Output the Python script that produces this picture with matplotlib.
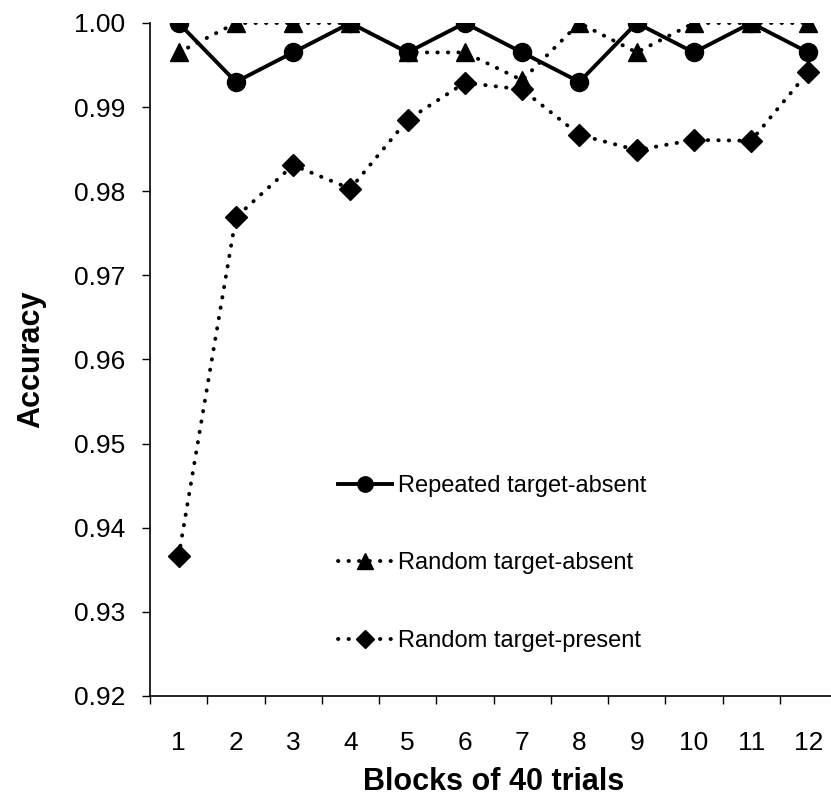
import matplotlib
matplotlib.use("Agg")
import matplotlib.pyplot as plt

plt.rcParams['font.family'] = ['Liberation Sans', 'DejaVu Sans']

blocks = list(range(1, 13))
repeated_absent = [1.000, 0.9930, 0.9965, 1.000, 0.9965, 1.000, 0.9965, 0.9930, 1.000, 0.9965, 1.000, 0.9965]
random_absent = [0.9965, 1.000, 1.000, 1.000, 0.9965, 0.9965, 0.9932, 1.000, 0.9965, 1.000, 1.000, 1.000]
random_present = [0.9366, 0.9769, 0.9831, 0.9803, 0.9885, 0.9929, 0.9921, 0.9867, 0.9849, 0.9861, 0.9860, 0.9942]
yticks = [0.92, 0.93, 0.94, 0.95, 0.96, 0.97, 0.98, 0.99, 1.00]
labels = ["Repeated target-absent", "Random target-absent", "Random target-present"]

fig = plt.figure(figsize=(8.31, 7.99), dpi=100)
ax = fig.add_axes([150/831, 1-696/799, 687/831, (696-23)/799])

dot = (0, (0.1, 2.6))
ax.plot(blocks, repeated_absent, color='black', lw=2.8, marker='o', ms=13, label=labels[0], zorder=3)
ax.plot(blocks, random_absent, color='black', lw=2.8, ls=dot, dash_capstyle='round', marker='^', ms=13, label=labels[1], zorder=2)
ax.plot(blocks, random_present, color='black', lw=2.8, ls=dot, dash_capstyle='round', marker='D', ms=11, label=labels[2], zorder=2)

ax.set_xlim(0.5, 12.5)
ax.set_ylim(0.92, 1.00)
ax.set_yticks(yticks)
ax.set_yticklabels([f"{v:.2f}" for v in yticks])
ax.set_xticks([b - 0.5 for b in blocks] + [12.5])
ax.set_xticklabels([])
ax.set_xticks(blocks, minor=True)
ax.set_xticklabels([str(b) for b in blocks], minor=True)
ax.tick_params(axis='x', which='minor', length=0, labelsize=19, pad=25)
ax.tick_params(axis='x', which='major', length=6, width=1, direction='out')
ax.tick_params(axis='y', length=6, width=1, direction='out', labelsize=19, pad=12)
for s in ['top', 'right']:
    ax.spines[s].set_visible(False)
ax.spines['left'].set_linewidth(1.2)
ax.spines['bottom'].set_linewidth(1.2)

ax.set_ylabel("Accuracy", fontsize=22, fontweight='bold', labelpad=20)
ax.set_xlabel("Blocks of 40 trials", fontsize=22, fontweight='bold', labelpad=9)

leg = ax.legend(loc='upper left', bbox_to_anchor=(338/831, 1-475/799), bbox_transform=fig.transFigure,
                frameon=False, fontsize=17, borderpad=0, borderaxespad=0,
                handlelength=2.3, labelspacing=2.35, handletextpad=0.25, markerscale=0.85)

fig.savefig("out.png", dpi=100)
